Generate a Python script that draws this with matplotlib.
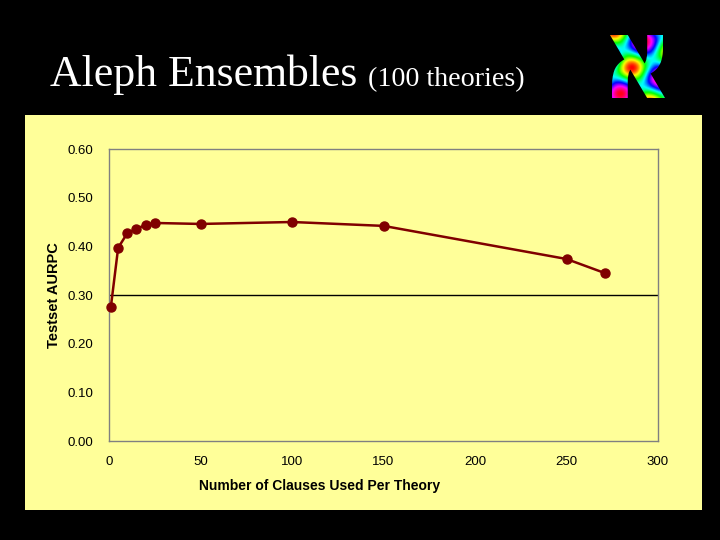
import numpy as np
import matplotlib.pyplot as plt
from matplotlib.textpath import TextPath
from matplotlib.patches import PathPatch, Rectangle
from matplotlib.font_manager import FontProperties
from matplotlib.path import Path

# data
clauses = [1, 5, 10, 15, 20, 25, 50, 100, 150, 250, 271]
aurpc = [0.275, 0.397, 0.427, 0.436, 0.444, 0.448, 0.446, 0.450, 0.442, 0.374, 0.345]
x_ticks = [0, 50, 100, 150, 200, 250, 300]
y_ticks = [0.0, 0.1, 0.2, 0.3, 0.4, 0.5, 0.6]

yellow = '#FFFF99'
dark_red = '#800000'

fig = plt.figure(figsize=(7.2, 5.4), dpi=100, facecolor='black')

# yellow panel behind the chart
fig.patches.append(Rectangle((25 / 720, 30 / 540), 677 / 720, 395 / 540,
                             transform=fig.transFigure, facecolor=yellow,
                             edgecolor='none', zorder=-5))

# title
fig.text(50 / 720, 1 - 75 / 540, 'Aleph Ensembles', family='Liberation Serif',
         fontsize=31.5, color='white', va='center', ha='left')
fig.text(368 / 720, 1 - 80 / 540, '(100 theories)', family='Liberation Serif',
         fontsize=20.2, color='white', va='center', ha='left')

# colourful aleph glyph in the top right corner
logo = fig.add_axes([610 / 720, 1 - 98 / 540, 55 / 720, 63 / 540])
logo.set_axis_off()
logo.set_xlim(0, 1)
logo.set_ylim(0, 1)
tp = TextPath((0, 0), '\u05d0', size=1, prop=FontProperties(family='DejaVu Sans', weight='bold'))
ext = tp.get_extents()
verts = (tp.vertices - [ext.x0, ext.y0]) / [ext.width, ext.height]
glyph = Path(verts, tp.codes)
patch = PathPatch(glyph, facecolor='none', edgecolor='none')
logo.add_patch(patch)
gx, gy = np.meshgrid(np.linspace(0, 1, 80), np.linspace(0, 1, 80))
grad = 0.5 * np.sin(gx * 7 + gy * 4) + 0.5 * np.cos(gy * 9 - gx * 3)
img = logo.imshow(grad, cmap='hsv', extent=[0, 1, 0, 1], origin='lower', aspect='auto')
img.set_clip_path(patch)

# main chart
ax = fig.add_axes([109 / 720, 1 - 441 / 540, 549 / 720, 292 / 540])
ax.set_facecolor(yellow)
ax.plot(clauses, aurpc, color=dark_red, lw=1.8, marker='o', ms=6.5,
        mfc=dark_red, mec=dark_red, clip_on=False, zorder=3)
ax.axhline(0.3, color='black', lw=1, zorder=2)
ax.set_xlim(0, 300)
ax.set_ylim(0, 0.6)
ax.set_xticks(x_ticks)
ax.set_yticks(y_ticks)
ax.set_xticklabels([str(t) for t in x_ticks])
ax.set_yticklabels(['%.2f' % t for t in y_ticks])
for s in ax.spines.values():
    s.set_color('#808080')
    s.set_linewidth(1)
ax.tick_params(length=0, pad=11, labelsize=9.5, labelcolor='black')
for lab in ax.get_xticklabels() + ax.get_yticklabels():
    lab.set_family('Liberation Sans')
ax.set_xlabel('Number of Clauses Used Per Theory',
              family='Liberation Sans', fontsize=10, fontweight='bold')
ax.xaxis.set_label_coords((320 - 109) / 549, -(479 - 441) / 292)
ax.set_ylabel('Testset AURPC', family='Liberation Sans',
              fontsize=10.5, fontweight='bold')
ax.yaxis.set_label_coords(-(109 - 61) / 549, 0.5)

fig.savefig('out.png', dpi=100, facecolor='black')
